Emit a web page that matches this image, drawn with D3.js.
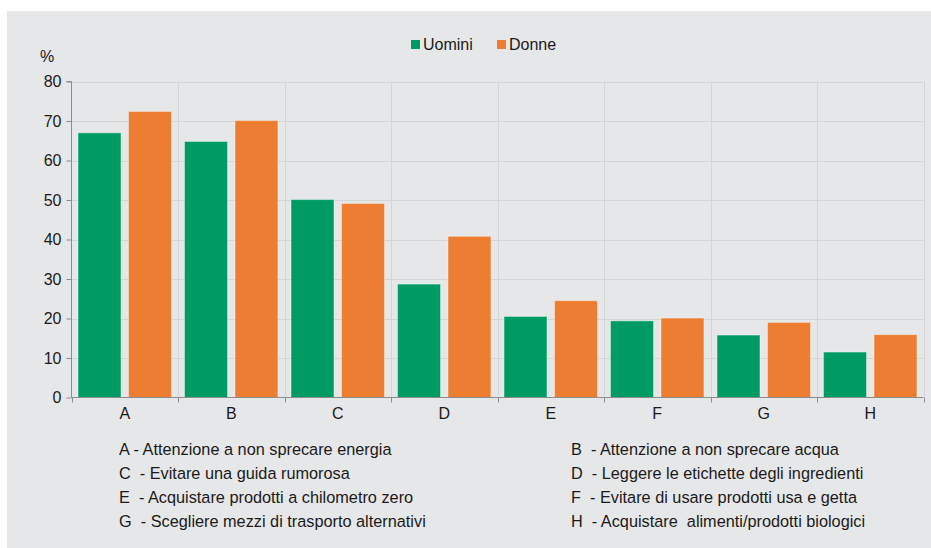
<!DOCTYPE html>
<html><head><meta charset="utf-8">
<script src="https://cdn.jsdelivr.net/npm/d3@7"></script>
<style>body{margin:0;background:#fff;}svg{display:block;font-family:"Liberation Sans",Arial,sans-serif;}</style>
</head><body>
<svg id="c" width="931" height="548"></svg>
<script>
const categories = ["A","B","C","D","E","F","G","H"];
const seriesNames = ["Uomini","Donne"];
const uomini = [67.0, 64.8, 50.1, 28.7, 20.5, 19.4, 15.8, 11.5];
const donne  = [72.4, 70.1, 49.1, 40.8, 24.5, 20.1, 19.0, 15.9];
const yTicks = [0,10,20,30,40,50,60,70,80];
const notesLeft = ["A - Attenzione a non sprecare energia","C  - Evitare una guida rumorosa","E  - Acquistare prodotti a chilometro zero","G  - Scegliere mezzi di trasporto alternativi"];
const notesRight = ["B  - Attenzione a non sprecare acqua","D  - Leggere le etichette degli ingredienti","F  - Evitare di usare prodotti usa e getta","H  - Acquistare  alimenti/prodotti biologici"];
const colors = ["#009B63","#ED7D31"];
const FF = "Liberation Sans, Arial, sans-serif";
const TXT = "#1a1a1a";

const svg = d3.select("#c");
svg.append("rect").attr("x",7).attr("y",11).attr("width",924).attr("height",537).attr("fill","#E6E7E9");

const x0 = d3.scaleBand().domain(categories).range([71.5,923.5]).paddingInner(0).paddingOuter(0);
const x1 = d3.scaleBand().domain(seriesNames).range([0,x0.bandwidth()]).paddingInner(0.15).paddingOuter(0.13);
const y = d3.scaleLinear().domain([0,80]).range([397.5,81.5]);

// gridlines
const g = svg.append("g");
g.selectAll("line.h").data(yTicks.slice(1)).join("line")
 .attr("x1",71.5).attr("x2",923.5).attr("y1",d=>Math.round(y(d))+0.5).attr("y2",d=>Math.round(y(d))+0.5)
 .attr("stroke","#D4D5D7").attr("stroke-width",1);
const bounds = categories.slice(1).map(c=>x0(c)).concat([x0.range()[1]]);
g.selectAll("line.v").data(bounds).join("line")
 .attr("x1",d=>Math.round(d)+0.5).attr("x2",d=>Math.round(d)+0.5).attr("y1",81.5).attr("y2",397.5)
 .attr("stroke","#D4D5D7").attr("stroke-width",1);

// bars
const data = categories.map((c,i)=>({c, vals:[{s:"Uomini",v:uomini[i]},{s:"Donne",v:donne[i]}]}));
svg.append("g").selectAll("g").data(data).join("g")
 .attr("transform",d=>`translate(${x0(d.c)},0)`)
 .selectAll("rect").data(d=>d.vals).join("rect")
 .attr("x",d=>x1(d.s)).attr("width",x1.bandwidth())
 .attr("y",d=>y(d.v)).attr("height",d=>y(0)-y(d.v))
 .attr("fill",(d,i)=>colors[i]).attr("stroke","rgba(255,255,255,0.35)").attr("stroke-width",1);

// y axis
const yAxis = d3.axisLeft(y).tickValues(yTicks).tickSize(5).tickPadding(5);
const ya = svg.append("g").attr("transform","translate(71.5,0)").call(yAxis);
ya.select(".domain").attr("stroke","#8C8C8C").attr("d","M-5,81.5H0V397.5");
ya.selectAll(".tick line").attr("stroke","#8C8C8C");
ya.selectAll(".tick text").attr("font-size",16).attr("fill",TXT).attr("font-family",FF);

// x axis
const xAxis = d3.axisBottom(x0).tickSize(0).tickPadding(10);
const xa = svg.append("g").attr("transform","translate(0,397.5)").call(xAxis);
xa.select(".domain").attr("stroke","#8C8C8C").attr("d","M71.5,0H923.5");
xa.selectAll(".tick text").attr("font-size",16).attr("fill",TXT).attr("font-family",FF);
xa.selectAll("line.bt").data([x0.range()[0]].concat(bounds)).join("line").attr("class","bt")
 .attr("x1",d=>Math.round(d)+0.5).attr("x2",d=>Math.round(d)+0.5).attr("y1",0).attr("y2",5).attr("stroke","#8C8C8C");

// % label
svg.append("text").attr("x",47).attr("y",62).attr("text-anchor","middle").attr("font-size",16).attr("fill",TXT).text("%");

// legend
const legX = [411, 497];
const leg = svg.append("g");
seriesNames.forEach((s,i)=>{
  leg.append("rect").attr("x",legX[i]).attr("y",40).attr("width",9).attr("height",9).attr("fill",colors[i]);
  leg.append("text").attr("x",legX[i]+12).attr("y",49.5).attr("font-size",16).attr("fill",TXT).text(s);
});

// notes
svg.append("g").selectAll("text").data(notesLeft).join("text")
 .attr("x",119).attr("y",(d,i)=>454.5+i*24).attr("font-size",16.3).attr("fill",TXT).style("white-space","pre").text(d=>d);
svg.append("g").selectAll("text").data(notesRight).join("text")
 .attr("x",571).attr("y",(d,i)=>454.5+i*24).attr("font-size",16.3).attr("fill",TXT).style("white-space","pre").text(d=>d);
</script>
</body></html>
